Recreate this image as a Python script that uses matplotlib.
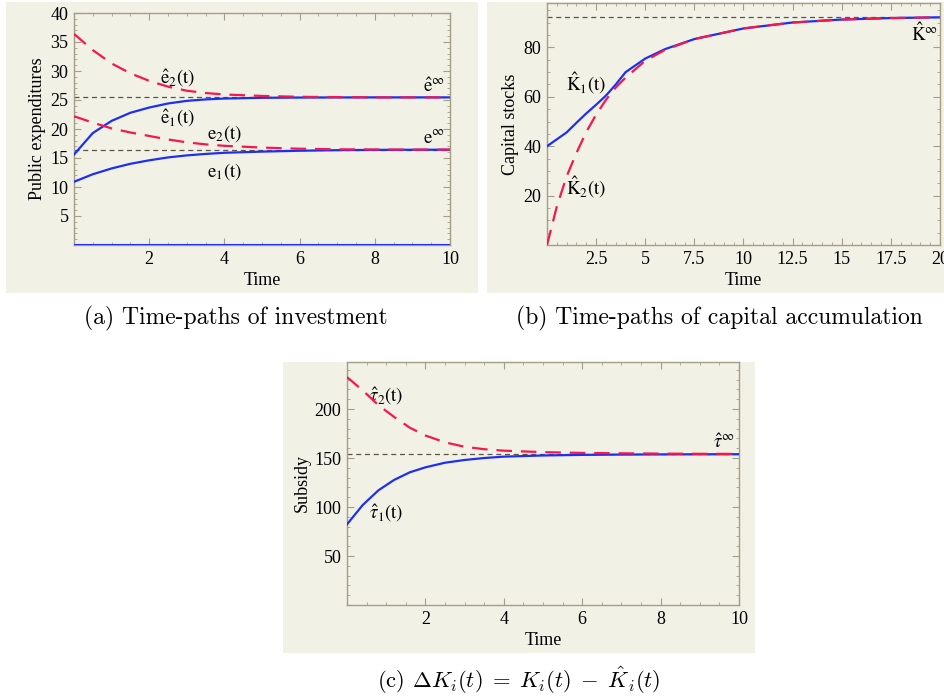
import numpy as np
import matplotlib.pyplot as plt
from matplotlib.ticker import MultipleLocator

# (a) 투자 경로
t_a = [0, 0.5, 1, 1.5, 2, 2.5, 3, 3.5, 4, 5, 6, 7, 8, 9, 10]
e2_hat = [36.4, 33.6, 31.3, 29.6, 28.3, 27.3, 26.6, 26.2, 25.95, 25.7, 25.55, 25.5, 25.45, 25.45, 25.45]
e1_hat = [15.6, 19.3, 21.4, 22.8, 23.7, 24.4, 24.85, 25.1, 25.25, 25.38, 25.42, 25.44, 25.45, 25.45, 25.45]
e2 = [22.2, 21.1, 20.1, 19.4, 18.8, 18.2, 17.7, 17.35, 17.1, 16.8, 16.6, 16.5, 16.47, 16.45, 16.45]
e1 = [10.9, 12.2, 13.2, 14.0, 14.6, 15.1, 15.45, 15.7, 15.9, 16.1, 16.25, 16.35, 16.4, 16.42, 16.43]
e_hat_inf = 25.45
e_inf = 16.45

# (b) 자본 축적
t_b = [0, 0.5, 1, 1.5, 2, 2.5, 3, 3.5, 4, 5, 6, 7.5, 10, 12.5, 15, 17.5, 20]
K1_hat = [40, 42.8, 45.6, 49.5, 53.3, 56.8, 60.5, 65.0, 70.0, 75.5, 79.3, 83.4, 87.7, 90.1, 91.3, 91.9, 92.2]
K2_hat = [0, 15.6, 27.8, 37.3, 45.8, 52.8, 58.8, 63.8, 67.8, 74.6, 79.0, 83.4, 87.7, 90.1, 91.3, 91.9, 92.2]
K_hat_inf = 92.4

# (c) 보조금
t_c = [0, 0.4, 0.8, 1.2, 1.6, 2, 2.5, 3, 3.5, 4, 5, 6, 7, 8, 9, 10]
tau2_hat = [232.6, 219, 204, 192, 181, 173, 166, 161.5, 159, 157.5, 156, 155.2, 154.8, 154.5, 154.3, 154.2]
tau1_hat = [82.3, 102, 117, 127.6, 135.4, 140.5, 145.2, 148, 150, 151.4, 152.6, 153.2, 153.5, 153.7, 153.8, 153.9]
tau_hat_inf = 153.6

blue = '#1f2ff2'
red = '#f5184f'
frame = '#a39f86'
bg = '#f2f1e6'
serif = ['Liberation Serif', 'DejaVu Serif']

plt.rcParams['font.family'] = serif
plt.rcParams['mathtext.fontset'] = 'stix'

fig = plt.figure(figsize=(9.45, 7.0), dpi=100)
W, H = 945, 700

def px_axes(x0, y0, x1, y1):
    return fig.add_axes([x0 / W, 1 - y1 / H, (x1 - x0) / W, (y1 - y0) / H])

def panel_bg(x0, y0, x1, y1):
    r = plt.Rectangle((x0 / W, 1 - y1 / H), (x1 - x0) / W, (y1 - y0) / H,
                      transform=fig.transFigure, facecolor=bg, edgecolor='none', zorder=-10)
    fig.patches.append(r)

def style(ax, xmaj, xmin, ymaj, ymin):
    ax.set_facecolor(bg)
    for s in ax.spines.values():
        s.set_color(frame)
        s.set_linewidth(1.0)
    ax.xaxis.set_major_locator(MultipleLocator(xmaj))
    ax.xaxis.set_minor_locator(MultipleLocator(xmin))
    ax.yaxis.set_major_locator(MultipleLocator(ymaj))
    ax.yaxis.set_minor_locator(MultipleLocator(ymin))
    ax.tick_params(which='both', direction='in', top=True, right=True, color=frame,
                   labelsize=13, pad=4)
    ax.tick_params(which='major', length=5)
    ax.tick_params(which='minor', length=2.5)

def dash_line(ax, y):
    ax.axhline(y, color='#5a5544', lw=0.9, dashes=(4, 3), zorder=1)

lab = dict(fontsize=13.5, ha='center', va='center')

# (a)
panel_bg(6, 2, 478, 293)
ax = px_axes(74, 13, 450, 245)
style(ax, 2, 0.5, 5, 1)
ax.set_xlim(0, 10)
ax.set_ylim(0, 40)
dash_line(ax, e_hat_inf)
dash_line(ax, e_inf)
ax.axhline(0, color=blue, lw=1.5, zorder=3)
ax.plot(t_a, e1_hat, color=blue, lw=1.6, zorder=3)
ax.plot(t_a, e1, color=blue, lw=1.6, zorder=3)
ax.plot(t_a, e2_hat, color=red, lw=1.6, dashes=(7, 4), zorder=4)
ax.plot(t_a, e2, color=red, lw=1.6, dashes=(7, 4), zorder=4)
ax.set_xticks([2, 4, 6, 8, 10])
ax.set_yticks([5, 10, 15, 20, 25, 30, 35, 40])
ax.set_xlabel('Time', fontsize=13, labelpad=3)
ax.set_ylabel('Public expenditures', fontsize=13, labelpad=3)
ax.text(2.75, 28.7, r'$\hat{\mathrm{e}}_2(\mathrm{t})$', **lab)
ax.text(2.75, 21.8, r'$\hat{\mathrm{e}}_1(\mathrm{t})$', **lab)
ax.text(4.0, 19.3, r'$\mathrm{e}_2(\mathrm{t})$', **lab)
ax.text(4.0, 12.6, r'$\mathrm{e}_1(\mathrm{t})$', **lab)
ax.text(9.58, 27.3, r'$\hat{\mathrm{e}}^{\infty}$', **lab)
ax.text(9.58, 18.3, r'$\mathrm{e}^{\infty}$', **lab)

# (b)
panel_bg(487, 2, 945, 293)
ax = px_axes(547, 3, 940, 245)
style(ax, 2.5, 0.5, 20, 5)
ax.set_xlim(0, 20)
ax.set_ylim(0, 98)
dash_line(ax, K_hat_inf)
ax.plot(t_b, K1_hat, color=blue, lw=1.6, zorder=3)
ax.plot(t_b, K2_hat, color=red, lw=1.6, dashes=(7, 4), zorder=4)
xt = [2.5, 5, 7.5, 10, 12.5, 15, 17.5, 20]
ax.set_xticks(xt)
ax.set_xticklabels(['2.5', '5', '7.5', '10', '12.5', '15', '17.5', '20'])
ax.set_yticks([20, 40, 60, 80])
ax.set_xlabel('Time', fontsize=13, labelpad=3)
ax.set_ylabel('Capital stocks', fontsize=13, labelpad=3)
ax.text(2.0, 65.7, r'$\hat{\mathrm{K}}_1(\mathrm{t})$', **lab)
ax.text(2.0, 23.3, r'$\hat{\mathrm{K}}_2(\mathrm{t})$', **lab)
ax.text(19.2, 85.5, r'$\hat{\mathrm{K}}^{\infty}$', **lab)

# (c)
panel_bg(283, 362, 755, 653)
ax = px_axes(347, 362, 739, 605)
style(ax, 2, 0.5, 50, 10)
ax.set_xlim(0, 10)
ax.set_ylim(0, 248)
dash_line(ax, tau_hat_inf)
ax.plot(t_c, tau1_hat, color=blue, lw=1.6, zorder=3)
ax.plot(t_c, tau2_hat, color=red, lw=1.6, dashes=(7, 4), zorder=4)
ax.set_xticks([2, 4, 6, 8, 10])
ax.set_yticks([50, 100, 150, 200])
ax.set_xlabel('Time', fontsize=13, labelpad=3)
ax.set_ylabel('Subsidy', fontsize=13, labelpad=3)
ax.text(1.0, 213, r'$\hat{\tau}_2(\mathrm{t})$', **lab)
ax.text(1.0, 93.5, r'$\hat{\tau}_1(\mathrm{t})$', **lab)
ax.text(9.6, 166, r'$\hat{\tau}^{\infty}$', **lab)

# 캡션
cap = dict(fontsize=17, ha='center', va='center', family='cmr10')
fig.text(236 / W, 1 - 318 / H, '(a) Time-paths of investment', **cap)
fig.text(719 / W, 1 - 318 / H, '(b) Time-paths of capital accumulation', **cap)
fig.text(519 / W, 1 - 680 / H,
         r'(c) $\Delta K_i(t)\;=\;K_i(t)\;-\;\hat{K}_i(t)$',
         math_fontfamily='cm', fontsize=16.3, ha='center', va='center', family='cmr10')

fig.savefig('out.png', dpi=100)
